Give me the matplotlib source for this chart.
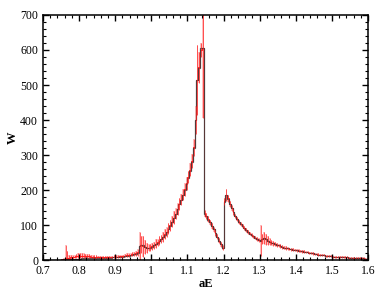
import numpy as np
import matplotlib
matplotlib.use('Agg')
import matplotlib.pyplot as plt
from matplotlib.ticker import MultipleLocator

# bin edges: 0.700 .. 1.600, width 0.005
edges = np.round(np.arange(0.700, 1.6001, 0.005), 3)

# grey histogram (one row per 0.05 in aE)
w_grey = [
    1, 1, 1, 1, 1, 1, 1, 1, 1, 1,
    1, 2, 2, 2, 3, 3, 3, 4, 4, 4,
    4, 5, 5, 5, 5, 5, 5, 5, 5, 5,
    5, 5, 6, 6, 6, 7, 7, 7, 8, 8,
    8, 9, 9, 10, 10, 11, 12, 13, 14, 16,
    17, 18, 20, 40, 44, 42, 38, 36, 35, 36,
    38, 42, 46, 50, 55, 60, 66, 72, 80, 88,
    98, 108, 120, 132, 145, 160, 172, 186, 200, 218,
    235, 255, 280, 320, 400, 514, 549, 606, 606, 132,
    125, 116, 108, 98, 88, 78, 67, 56, 45, 36,
    166, 186, 175, 160, 148, 136, 126, 118, 110, 103,
    97, 91, 86, 81, 76, 72, 68, 64, 61, 58,
    56, 60, 62, 59, 56, 53, 50, 48, 46, 44,
    42, 40, 38, 36, 35, 34, 32, 31, 30, 29,
    28, 27, 26, 25, 24, 23, 22, 21, 20, 19,
    18, 17, 16, 15, 15, 14, 13, 12, 12, 11,
    10, 10, 9, 9, 9, 8, 8, 8, 8, 7,
    7, 7, 6, 6, 6, 5, 5, 5, 4, 4,
]

# red histogram with errors
w_red = [
    1, 1, 1, 1, 1, 1, 1, 1, 1, 1,
    2, 3, 4, 5, 6, 8, 9, 10, 11, 12,
    12, 13, 13, 12, 12, 11, 10, 10, 9, 9,
    9, 8, 8, 8, 8, 8, 9, 9, 9, 10,
    10, 10, 11, 11, 12, 13, 14, 15, 16, 17,
    18, 19, 22, 40, 44, 40, 37, 35, 35, 37,
    39, 43, 47, 51, 56, 61, 67, 74, 81, 90,
    99, 110, 121, 133, 146, 160, 173, 187, 202, 219,
    237, 258, 282, 322, 400, 515, 550, 600, 606, 134,
    126, 117, 108, 98, 88, 78, 67, 56, 45, 36,
    168, 186, 176, 161, 148, 137, 127, 118, 110, 103,
    97, 91, 86, 81, 76, 72, 68, 64, 61, 58,
    56, 61, 63, 59, 56, 53, 50, 48, 46, 44,
    42, 40, 38, 36, 35, 34, 32, 31, 30, 29,
    28, 27, 26, 25, 24, 23, 22, 21, 20, 19,
    18, 17, 16, 15, 15, 14, 13, 12, 12, 11,
    10, 10, 9, 9, 9, 8, 8, 8, 8, 7,
    7, 7, 6, 6, 6, 5, 5, 5, 4, 4,
]

err_red = [
    0, 0, 0, 0, 0, 0, 0, 0, 0, 0,
    2, 2, 38, 20, 8, 6, 6, 5, 6, 7,
    7, 7, 7, 6, 6, 6, 5, 5, 5, 5,
    4, 4, 4, 4, 4, 4, 4, 4, 4, 4,
    4, 4, 4, 4, 4, 5, 5, 5, 5, 6,
    6, 8, 10, 40, 25, 30, 20, 15, 10, 10,
    10, 10, 12, 10, 12, 12, 14, 14, 15, 16,
    16, 16, 18, 16, 18, 18, 16, 16, 18, 18,
    18, 18, 20, 25, 40, 100, 45, 20, 200, 10,
    8, 8, 8, 8, 8, 8, 8, 8, 8, 6,
    10, 18, 10, 8, 8, 8, 6, 6, 6, 6,
    6, 6, 6, 6, 5, 5, 5, 5, 5, 5,
    45, 15, 18, 15, 12, 10, 8, 8, 6, 6,
    5, 5, 5, 5, 5, 4, 4, 4, 4, 4,
    4, 4, 4, 4, 4, 3, 3, 3, 3, 3,
    3, 3, 3, 3, 3, 3, 3, 3, 3, 3,
    3, 3, 3, 3, 3, 3, 3, 3, 3, 3,
    3, 3, 3, 3, 3, 3, 3, 3, 3, 3,
]

plt.rcParams['font.family'] = ['Liberation Serif', 'DejaVu Serif']

fig = plt.figure(figsize=(3.87, 2.99), dpi=100)
ax = fig.add_axes([0.111, 0.130, 0.840, 0.820])

w_red = np.array(w_red, dtype=float)
err_red = np.array(err_red, dtype=float)
w_grey = np.array(w_grey, dtype=float)
centers = (edges[:-1] + edges[1:]) / 2

# pink error band
ax.bar(centers, 2 * err_red, bottom=w_red - err_red, width=0.004,
       color='#ff0000', alpha=0.25, linewidth=0)
# red error bars
ax.vlines(centers, w_red - err_red, w_red + err_red, color='#ff2020', linewidth=0.5)
ax.stairs(w_red, edges, baseline=None, color='#ff0000', linewidth=0.6)
ax.stairs(w_grey, edges, baseline=None, color='#3a3a3a', linewidth=0.9, alpha=0.85)

ax.set_xlim(0.7, 1.6)
ax.set_ylim(0, 700)
ax.xaxis.set_major_locator(MultipleLocator(0.1))
ax.xaxis.set_minor_locator(MultipleLocator(0.02))
ax.yaxis.set_major_locator(MultipleLocator(100))
ax.yaxis.set_minor_locator(MultipleLocator(20))
ax.set_xticks(np.arange(0.7, 1.61, 0.1))
ax.set_xticklabels(['0.7', '0.8', '0.9', '1', '1.1', '1.2', '1.3', '1.4', '1.5', '1.6'])
ax.tick_params(which='both', direction='in', top=True, right=True, labelsize=8.5)
ax.tick_params(which='major', length=4, width=1)
ax.tick_params(which='minor', length=2, width=0.8)
for s in ax.spines.values():
    s.set_linewidth(1.1)

ax.set_xlabel('aE', fontsize=9, fontweight='bold', labelpad=1)
ax.set_ylabel('W', fontsize=9, fontweight='bold')
ax.yaxis.set_label_coords(-0.075, 0.5)

fig.savefig('out.png', dpi=100)
